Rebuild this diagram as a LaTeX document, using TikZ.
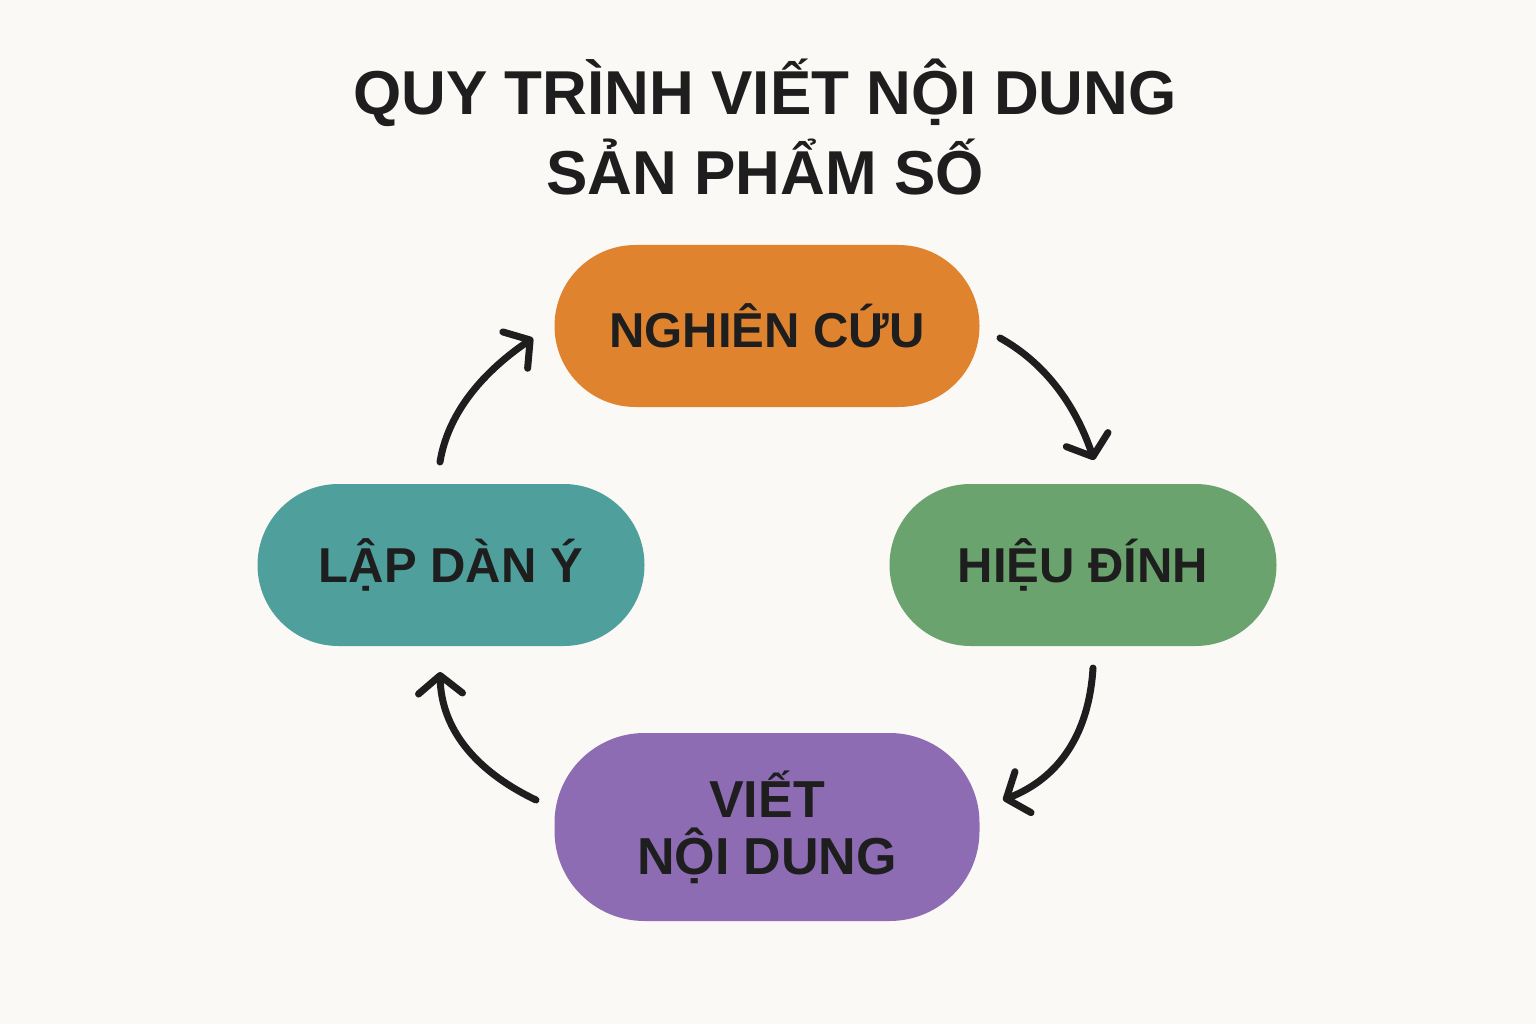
\documentclass[tikz,border=0pt]{standalone}
\usepackage{fontspec}
\setmainfont{Liberation Sans}
\usetikzlibrary{arrows.meta}
\definecolor{bgc}{HTML}{FBF9F6}
\definecolor{txt}{HTML}{1E1E1E}
\definecolor{corange}{HTML}{E0832F}
\definecolor{cgreen}{HTML}{6BA36E}
\definecolor{cpurple}{HTML}{8E6CB4}
\definecolor{cteal}{HTML}{4F9F9C}
\begin{document}
\begin{tikzpicture}[x=1pt,y=-1pt,
  pill/.style={rounded corners=81pt, minimum height=162pt, inner sep=0pt, text=txt,
    font=\fontsize{49}{57}\selectfont\bfseries, align=center},
  flow/.style={line width=7pt, draw=txt, line cap=round,
    -{Straight Barb[length=18pt,width=44pt,line cap=round,line join=round]}},
  titletext/.style={font=\fontsize{62}{80}\selectfont\bfseries, text=txt, align=center}]
\fill[bgc] (0,0) rectangle (1536,1024);
\useasboundingbox (0,0) rectangle (1536,1024);
\node[titletext] (title) at (765,127) {QUY TRÌNH VIẾT NỘI DUNG\\SẢN PHẨM SỐ};
\node[pill, fill=corange, minimum width=425pt] (nc) at (767,326) {NGHIÊN CỨU};
\node[pill, fill=cgreen, minimum width=387pt] (hd) at (1083,565) {HIỆU ĐÍNH};
\node[pill, fill=cpurple, minimum width=425pt, minimum height=188pt, rounded corners=90pt,
  font=\fontsize{52}{57}\selectfont\bfseries] (vnd) at (767,827) {VIẾT\\NỘI DUNG};
\node[pill, fill=cteal, minimum width=387pt] (ldy) at (451,565) {LẬP DÀN Ý};
\coordinate (a1s) at (1000,338); \coordinate (a1e) at (1094,460);
\coordinate (a2s) at (1093,668); \coordinate (a2e) at (1003,800);
\coordinate (a3s) at (536,800);  \coordinate (a3e) at (440,672);
\coordinate (a4s) at (440,462);  \coordinate (a4e) at (533,338);
\draw[flow] (a1s) .. controls (1043.3,362) and (1074.7,402.7) .. (a1e);
\draw[flow] (a2s) .. controls (1089,734) and (1059,778) .. (a2e);
\draw[flow] (a3s) .. controls (473.3,770) and (441.3,727.3) .. (a3e);
\draw[flow] (a4s) .. controls (447.3,416.7) and (478.3,375.3) .. (a4e);
\end{tikzpicture}
\end{document}
